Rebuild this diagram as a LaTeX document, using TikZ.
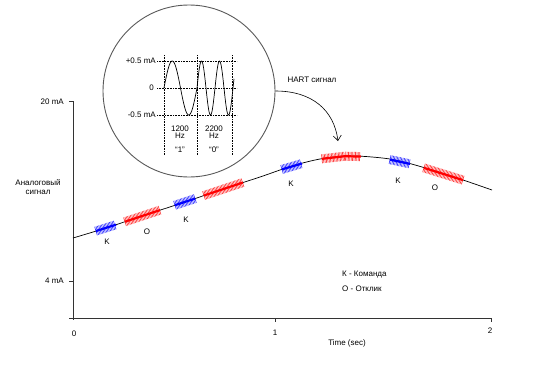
\documentclass[tikz,border=0pt]{standalone}
\usepackage{fontspec}
\setmainfont{Liberation Sans}
\usetikzlibrary{decorations.markings, arrows.meta}

\begin{document}
\begin{tikzpicture}[x=1pt, y=-1pt, font=\fontsize{8}{9.5}\selectfont,
    eje/.style={line width=0.8pt, black!80},
    rejilla/.style={densely dotted, line width=0.6pt},
    etiqueta/.style={inner sep=0pt},
    paket/.style={draw=#1, line width=2.2pt,
        preaction={decorate, decoration={markings,
            mark=between positions 0 and 1 step 1.4pt with
            {\draw[#1!75, line width=0.7pt] (0,-4.5pt) -- (0,4.5pt);}}}}]

    \useasboundingbox (0,0) rectangle (550,365);

    % ejes
    \draw[eje] (73,101) -- (73,320);
    \draw[eje] (69,318) -- (491,318);
    \draw[eje] (69,101) -- (73,101);
    \draw[eje] (69,281) -- (73,281);
    \draw[eje] (275,318) -- (275,322);
    \draw[eje] (491,318) -- (491,322);
    \node[etiqueta, anchor=east] (y20) at (64,102) {20 mA};
    \node[etiqueta, anchor=east] (y4) at (64,281) {4 mA};
    \node[etiqueta, align=center] (signal) at (38,187) {Аналоговый\\сигнал};
    \node[etiqueta] (t0) at (74,334) {0};
    \node[etiqueta] (t1) at (275,333) {1};
    \node[etiqueta] (t2) at (490,331) {2};
    \node[etiqueta] (time) at (347,343) {Time (sec)};

    % analogovyi signal
    \draw[line width=0.7pt] plot[smooth, tension=0.55] coordinates {(73,238) (106,228)
        (142,216) (185,202) (223,189) (260,177) (292,166) (320,159) (345,156)
        (372,157) (400,161) (445,174) (492,190)};

    % pakety HART: K - komanda (blue), O - otklik (red)
    \path[paket=blue] (96,231) -- (116,224.7);
    \path[paket=red] (125,221.7) -- (160,210.1);
    \path[paket=blue] (175,205.2) -- (195,198.6);
    \path[paket=red] (204,195.5) -- (243,182.5);
    \path[paket=blue] (282,169.4) -- (302,163.5);
    \path[paket=red] (322,158.8) -- (345,156.2) -- (361,156.6);
    \path[paket=blue] (390,159.6) -- (410,163.9);
    \path[paket=red] (424,167.9) -- (463,180.1);

    \node[etiqueta] (k1) at (107,242) {K};
    \node[etiqueta] (o1) at (147,232) {O};
    \node[etiqueta] (k2) at (186,220) {K};
    \node[etiqueta] (k3) at (291,184) {K};
    \node[etiqueta] (k4) at (398,181) {K};
    \node[etiqueta] (o2) at (435,188) {O};

    \node[etiqueta, anchor=west] (leg1) at (342,275) {К - Команда};
    \node[etiqueta, anchor=west] (leg2) at (342,289) {О - Отклик};

    % lupa
    \node[circle, draw=black!65, line width=0.9pt, minimum size=172pt] (lupa) at (189,91) {};
    \foreach \y in {61,88,115}
        \draw[rejilla] (157,\y) -- (237,\y);
    \foreach \x in {164,197,232}
        \draw[rejilla] (\x,55) -- (\x,155);
    \node[etiqueta, anchor=east] (plus) at (156,61) {+0.5 mA};
    \node[etiqueta, anchor=east] (nol) at (154,88) {0};
    \node[etiqueta, anchor=east] (minus) at (156,115) {-0.5 mA};
    \node[etiqueta, align=center] (f1200) at (180,132) {1200\\[-2pt]Hz};
    \node[etiqueta] (bit1) at (180,150) {``1''};
    \node[etiqueta, align=center] (f2200) at (214,132) {2200\\[-2pt]Hz};
    \node[etiqueta] (bit0) at (214,150) {``0''};
    \draw[line width=0.7pt] plot[domain=164:197, samples=60] (\x,{88-27*sin(360*(\x-164)/33)});
    \draw[line width=0.7pt] plot[domain=197:234, samples=80] (\x,{88-27*sin(360*(\x-197)/18)});

    % strelka
    \coordinate (punta) at (338,141);
    \node[etiqueta] (hart) at (312,80) {HART сигнал};
    \draw[line width=0.6pt, -{Straight Barb[length=5pt, width=8pt]}]
        (lupa.east) .. controls (312,91) and (334,110) .. (punta);

\end{tikzpicture}
\end{document}
